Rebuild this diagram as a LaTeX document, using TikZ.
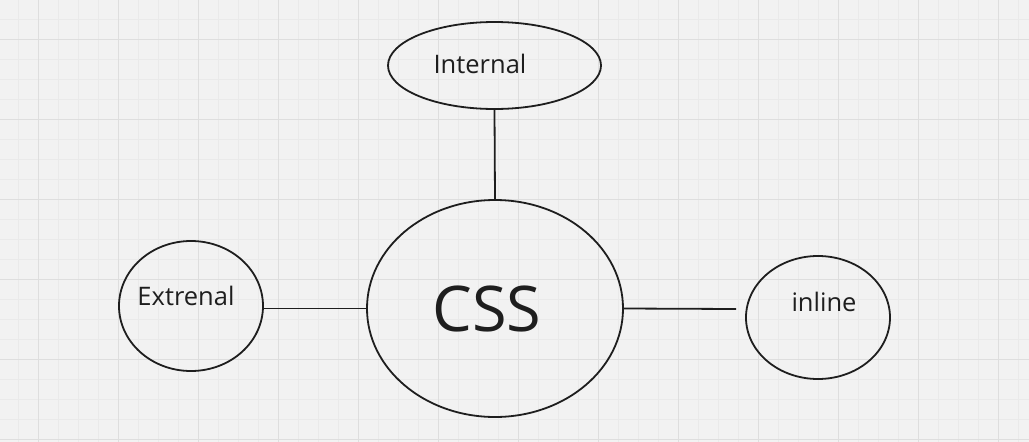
\documentclass[tikz,border=0pt]{standalone}
\usepackage{fontspec}
\setmainfont{Open Sans}
\usetikzlibrary{shapes.geometric}

\definecolor{paper}{HTML}{F2F2F2}
\definecolor{gridminor}{HTML}{EAEAEA}
\definecolor{gridmajor}{HTML}{DEDEDE}
\definecolor{ink}{HTML}{1E1E1E}

\tikzset{
  bubble/.style={draw=ink, line width=1.8pt, ellipse, inner sep=0pt},
  word/.style={anchor=base, inner sep=0pt, text=ink, font=\fontsize{25.5}{30}\selectfont},
  link/.style={draw=ink, line width=1.8pt}
}

\begin{document}
\begin{tikzpicture}[x=1pt, y=-1pt]
  \fill[paper] (0,0) rectangle (1029,442);
  \useasboundingbox (0,0) rectangle (1029,442);
  % grid
  \foreach \i in {0,...,51}
    \draw[gridminor, line width=1pt] (18.3+20*\i,0) -- (18.3+20*\i,442);
  \foreach \i in {0,...,22}
    \draw[gridminor, line width=1pt] (0,19.3+20*\i) -- (1029,19.3+20*\i);
  \foreach \i in {0,...,12}
    \draw[gridmajor, line width=1.2pt] (38.3+80*\i,0) -- (38.3+80*\i,442);
  \foreach \i in {0,...,5}
    \draw[gridmajor, line width=1.2pt] (0,39.3+80*\i) -- (1029,39.3+80*\i);

  % bubbles
  \node[bubble, minimum width=213pt, minimum height=87pt] (internal) at (494.5,65.5) {};
  \node[bubble, minimum width=256pt, minimum height=217pt] (css) at (495,308.5) {};
  \node[bubble, minimum width=144pt, minimum height=130pt] (extrenal) at (191,306) {};
  \node[bubble, minimum width=144pt, minimum height=123pt] (inline) at (818,317.5) {};

  % texts
  \node[word] (internal-txt) at (480,73) {Internal};
  \node[word] (extrenal-txt) at (186,305) {Extrenal};
  \node[word] (inline-txt) at (824,311) {inline};
  \node[word, font=\fontsize{63}{70}\selectfont] (css-txt) at (487,331) {CSS};

  % links
  \coordinate (inline-end) at (736,309);
  \draw[link] (internal.south) -- (css.north);
  \draw[link] (extrenal.east |- css.west) -- (css.west);
  \draw[link] (css.east) -- (inline-end);
\end{tikzpicture}
\end{document}
